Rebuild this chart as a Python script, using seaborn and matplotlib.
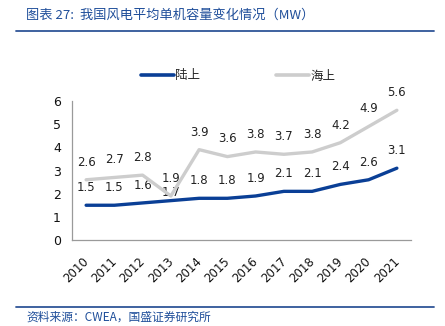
import matplotlib
matplotlib.use("Agg")
import matplotlib.pyplot as plt
import seaborn as sns
import pandas as pd
import numpy as np
from matplotlib.lines import Line2D
from matplotlib.ticker import FixedLocator

years = ["2010", "2011", "2012", "2013", "2014", "2015", "2016", "2017", "2018", "2019", "2020", "2021"]
onshore = [1.5, 1.5, 1.6, 1.7, 1.8, 1.8, 1.9, 2.1, 2.1, 2.4, 2.6, 3.1]
offshore = [2.6, 2.7, 2.8, 1.9, 3.9, 3.6, 3.8, 3.7, 3.8, 4.2, 4.9, 5.6]
series_names = ["陆上", "海上"]
title = "图表 27:  我国风电平均单机容量变化情况（MW）"
source = "资料来源：CWEA，国盛证券研究所"

sns.set_style("white")
plt.rcParams['font.family'] = ['Noto Sans CJK SC', 'DejaVu Sans']

W, H = 445, 326
fig = plt.figure(figsize=(W / 100, H / 100), dpi=100)
ax = fig.add_axes([72 / W, 1 - 240 / H, (411 - 72) / W, (240 - 101) / H])

idx = np.arange(len(years))
df = pd.DataFrame({
    "x": np.concatenate([idx, idx]),
    "value": onshore + offshore,
    "series": [series_names[0]] * len(years) + [series_names[1]] * len(years),
})
colors = {"陆上": "#0A3F96", "海上": "#CDCDCD"}
sns.lineplot(data=df, x="x", y="value", hue="series", palette=colors,
             linewidth=2.4, ax=ax, legend=False, sort=False,
             hue_order=series_names, zorder=3)

ax.set_xlim(-0.5, len(years) - 0.5)
ax.set_ylim(0, 6)
ax.set_xlabel("")
ax.set_ylabel("")
ax.set_yticks(range(0, 7))
ax.set_xticks(idx)
ax.set_xticklabels(years, rotation=45, ha="right", va="top",
                   family="DejaVu Sans", fontsize=8.5, color="#111111")
ax.xaxis.set_minor_locator(FixedLocator(np.arange(-0.5, len(years), 1.0)))
ax.tick_params(axis="x", which="major", length=0, pad=11)
ax.tick_params(axis="x", which="minor", length=4, width=0.8, color="#9A9A9A", direction="out")
ax.tick_params(axis="y", length=4, width=0.8, color="#9A9A9A", direction="out",
               labelsize=9, labelcolor="#111111", pad=4)
for lab in ax.get_yticklabels():
    lab.set_family("DejaVu Sans")
for lab in ax.get_xticklabels():
    lab.set_transform(lab.get_transform() + matplotlib.transforms.ScaledTranslation(5 / 100, 0, fig.dpi_scale_trans))

for s in ["top", "right"]:
    ax.spines[s].set_visible(False)
for s in ["left", "bottom"]:
    ax.spines[s].set_color("#9A9A9A")
    ax.spines[s].set_linewidth(0.9)

# data labels
for i, v in enumerate(onshore):
    off = 1.5 if years[i] == "2013" else 8
    ax.annotate(f"{v:.1f}", (i, v), xytext=(0, off), textcoords="offset points",
                ha="center", va="bottom", fontsize=8.5, family="DejaVu Sans", color="#222222", zorder=1)
for i, v in enumerate(offshore):
    ax.annotate(f"{v:.1f}", (i, v), xytext=(0, 8), textcoords="offset points",
                ha="center", va="bottom", fontsize=8.5, family="DejaVu Sans", color="#222222", zorder=1)

# legend
handles = [Line2D([], [], color=colors[n], linewidth=2.6) for n in series_names]
leg = fig.legend(handles, series_names, loc="center", bbox_to_anchor=(238 / W, 1 - 76 / H),
                 ncol=2, frameon=False, fontsize=9, handlelength=2.65, handletextpad=0.15,
                 columnspacing=6.0, borderpad=0.2)

# title and separators
blue = "#1F4E9A"
fig.text(26 / W, 1 - 15 / H, title, fontsize=9.5, style="italic", color=blue,
         ha="left", va="center")
fig.add_artist(Line2D([16 / W, 434 / W], [1 - 31 / H, 1 - 31 / H], color="#2F5597", linewidth=1.3))
fig.add_artist(Line2D([16 / W, 434 / W], [1 - 307 / H, 1 - 307 / H], color="#2F5597", linewidth=1.3))
fig.text(26 / W, 1 - 317 / H, source, fontsize=8.5, style="italic", color=blue,
         ha="left", va="center")

fig.savefig("out.png", dpi=100, facecolor="white")
